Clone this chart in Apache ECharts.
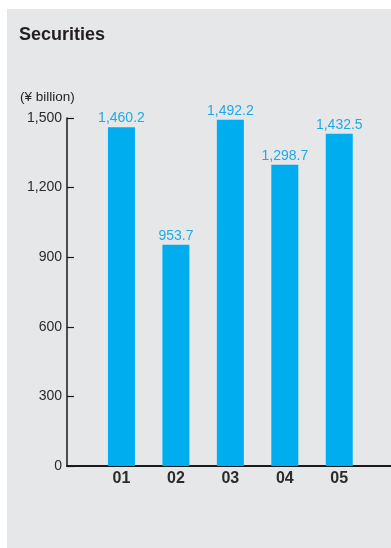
<!DOCTYPE html>
<html>
<head>
<meta charset="utf-8">
<script src="https://cdn.jsdelivr.net/npm/echarts@6/dist/echarts.min.js"></script>
<style>
html,body{margin:0;padding:0;background:#fff;}
#chart{width:391px;height:548px;}
</style>
</head>
<body>
<div id="chart"></div>
<script>
var title = 'Securities';
var unitLabel = '(¥ billion)';
var categories = ['01', '02', '03', '04', '05'];
var values = [1460.2, 953.7, 1492.2, 1298.7, 1432.5];
var yTicks = [0, 300, 600, 900, 1200, 1500];

var chart = echarts.init(document.getElementById('chart'), null, {renderer: 'canvas'});
var FONT = '"Liberation Sans", Arial, sans-serif';

function fmt(v, d) {
  return v.toLocaleString('en-US', {minimumFractionDigits: d, maximumFractionDigits: d});
}

var seriesData = values.map(function (v, i) { return [i + 1, v]; });

chart.setOption({
  animation: false,
  graphic: [
    {type: 'rect', left: 7, top: 9, shape: {width: 384, height: 539}, style: {fill: '#e6e7e9'}, z: -10, silent: true},
    {type: 'text', left: 19, top: 26, style: {text: title, font: 'bold 18px ' + FONT, fill: '#231f20'}},
    {type: 'text', left: 20, top: 90, style: {text: unitLabel, font: '13.5px ' + FONT, fill: '#231f20'}}
  ],
  grid: {left: 67, right: 0, top: 118, bottom: 82, containLabel: false},
  xAxis: {
    type: 'value',
    min: 0,
    max: 5.95,
    interval: 1,
    splitLine: {show: false},
    axisTick: {show: false},
    axisLine: {show: true, onZero: false, lineStyle: {color: '#1a1a1a', width: 2}},
    axisLabel: {
      show: true,
      margin: 5,
      showMaxLabel: false,
      showMinLabel: false,
      fontFamily: FONT,
      fontSize: 16,
      fontWeight: 'bold',
      color: '#2b2b2b',
      formatter: function (v) {
        var i = Math.round(v) - 1;
        return (i >= 0 && i < categories.length && Math.abs(v - Math.round(v)) < 1e-6) ? categories[i] : '';
      }
    }
  },
  yAxis: {
    type: 'value',
    min: yTicks[0],
    max: yTicks[yTicks.length - 1],
    interval: yTicks[1] - yTicks[0],
    splitLine: {show: false},
    axisLine: {show: true, lineStyle: {color: '#1a1a1a', width: 1.5}},
    axisTick: {show: true, inside: true, length: 7, lineStyle: {color: '#1a1a1a', width: 1.2}},
    axisLabel: {
      margin: 5,
      fontFamily: FONT,
      fontSize: 14,
      color: '#2b2b2b',
      formatter: function (v) { return fmt(v, 0); }
    }
  },
  series: [{
    type: 'bar',
    data: seriesData,
    barWidth: 27,
    itemStyle: {color: '#00aeef'},
    label: {
      show: true,
      position: 'top',
      distance: 2,
      fontFamily: FONT,
      fontSize: 14,
      color: '#1eaae7',
      formatter: function (p) { return fmt(p.value[1], 1); }
    }
  }]
});
</script>
</body>
</html>
